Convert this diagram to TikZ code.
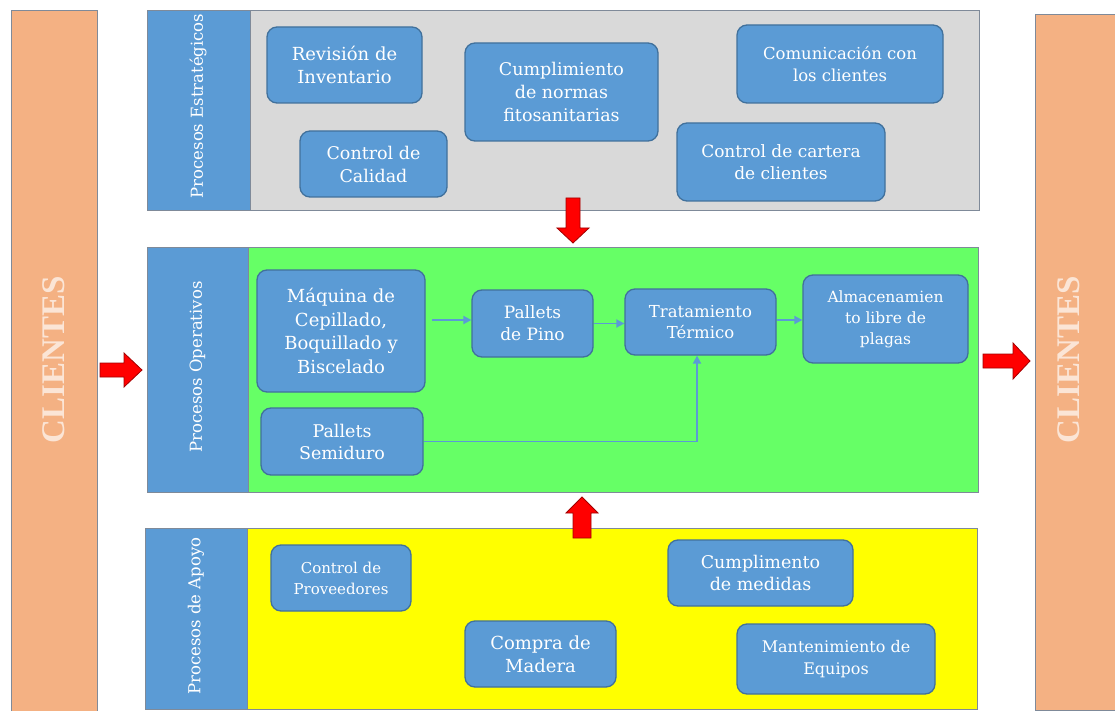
\documentclass[tikz,border=0pt]{standalone}
\usepackage{fontspec}
\setmainfont{DejaVu Serif}
\newfontfamily\clifont{Liberation Serif}
\usetikzlibrary{arrows.meta}
\definecolor{boxblue}{HTML}{5B9BD5}
\definecolor{boxedge}{HTML}{41719C}
\definecolor{panelgray}{HTML}{D9D9D9}
\definecolor{panelgreen}{HTML}{66FF66}
\definecolor{panelyellow}{HTML}{FFFF00}
\definecolor{clientorange}{HTML}{F4B183}
\definecolor{clienttext}{HTML}{FBE5D6}
\definecolor{edgegray}{HTML}{7F8A99}
\definecolor{arrowred}{HTML}{FF0000}
\definecolor{arrowedge}{HTML}{A00000}
\newcommand{\fsz}[2]{\fontsize{#1}{#2}\selectfont}
\tikzset{
  proc/.style={draw=boxedge, fill=boxblue, line width=1.3pt, rounded corners=10pt,
    text=white, align=center, inner sep=2pt},
  panel/.style={draw=edgegray, line width=1.3pt, anchor=north west, inner sep=0pt},
  strip/.style={draw=edgegray, fill=boxblue, line width=1.3pt, anchor=north west, inner sep=0pt},
  striplabel/.style={rotate=90, text=white, font=\fsz{16.5}{19}},
  clientbar/.style={draw=edgegray, fill=clientorange, line width=1.3pt, anchor=north west, inner sep=0pt},
  clientlabel/.style={rotate=90, text=clienttext, font=\clifont\bfseries\fsz{33}{36}},
  flow/.style={draw=boxblue, line width=1.8pt, -{Triangle[length=8pt,width=8pt]}},
  bigarrow/.style={fill=arrowred, draw=arrowedge, line width=0.8pt, line join=miter},
}
\begin{document}
\begin{tikzpicture}[x=1pt, y=-1pt]
\useasboundingbox (0,0) rectangle (1115,711);
\fill[white] (0,0) rectangle (1115,711);

% clients bars
\node[clientbar, minimum width=86pt, minimum height=701pt] (cl) at (11,10) {};
\node[clientlabel] (cltext) at (54,360) {CLIENTES};
\node[clientbar, minimum width=90pt, minimum height=696pt] (cr) at (1035,14) {};
\node[clientlabel] (crtext) at (1069,360) {CLIENTES};

% panels
\node[panel, fill=panelgray, minimum width=832pt, minimum height=200pt] (ptop) at (147,10) {};
\node[strip, minimum width=103pt, minimum height=200pt] (stop) at (147,10) {};
\node[striplabel] (ltop) at (198,106) {Procesos Estratégicos};

\node[panel, fill=panelgreen, minimum width=831pt, minimum height=245pt] (pmid) at (147,247) {};
\node[strip, minimum width=101pt, minimum height=245pt] (smid) at (147,247) {};
\node[striplabel] (lmid) at (197.5,367) {Procesos Operativos};

\node[panel, fill=panelyellow, minimum width=832pt, minimum height=181pt] (pbot) at (145,528) {};
\node[strip, minimum width=102pt, minimum height=181pt] (sbot) at (145,528) {};
\node[striplabel] (lbot) at (196,616) {Procesos de Apoyo};

% strategic boxes
\node[proc, minimum width=155pt, minimum height=76pt, font=\fsz{18}{23}] (rev) at (344.5,65) {Revisión de\\Inventario};
\node[proc, minimum width=147pt, minimum height=66pt, font=\fsz{17.5}{23}] (cal) at (373.5,164) {Control de\\Calidad};
\node[proc, minimum width=193pt, minimum height=98pt, font=\fsz{17.5}{23}] (cum) at (561.5,92) {Cumplimiento\\de normas\\fitosanitarias};
\node[proc, minimum width=206pt, minimum height=78pt, font=\fsz{16.5}{22}] (com) at (840,64) {Comunicación con\\los clientes};
\node[proc, minimum width=208pt, minimum height=78pt, font=\fsz{17}{22}] (car) at (781,162) {Control de cartera\\de clientes};

% operative boxes
\node[proc, minimum width=168pt, minimum height=122pt, font=\fsz{18}{23.5}] (maq) at (341,331) {Máquina de\\Cepillado,\\Boquillado y\\Biscelado};
\node[proc, minimum width=121pt, minimum height=67pt, font=\fsz{17}{22}] (pino) at (532.5,323.5) {Pallets\\de Pino};
\node[proc, minimum width=151pt, minimum height=66pt, font=\fsz{16.5}{21}] (trat) at (700.5,322) {Tratamiento\\Térmico};
\node[proc, minimum width=165pt, minimum height=88pt, font=\fsz{15.5}{21}] (alm) at (885.5,319) {Almacenamien\\to libre de\\plagas};
\node[proc, minimum width=162pt, minimum height=67pt, font=\fsz{17.5}{22}] (semi) at (342,441.5) {Pallets\\Semiduro};

% support boxes
\node[proc, minimum width=140pt, minimum height=66pt, font=\fsz{15}{21}] (prov) at (341,578) {Control de\\Proveedores};
\node[proc, minimum width=151pt, minimum height=66pt, font=\fsz{18}{23}] (mad) at (540.5,654) {Compra de\\Madera};
\node[proc, minimum width=185pt, minimum height=66pt, font=\fsz{17.5}{22}] (med) at (760.5,573) {Cumplimento\\de medidas};
\node[proc, minimum width=198pt, minimum height=70pt, font=\fsz{16}{22}] (mant) at (836,659) {Mantenimiento de\\Equipos};

% flow connectors
\coordinate (maqout) at (432,320);
\draw[flow] (maqout) -- (maqout -| pino.west);
\draw[flow] (pino.east) -- (pino.east -| trat.west);
\draw[flow] ([yshift=2pt]trat.east) -- ([yshift=2pt]trat.east -| alm.west);
\draw[flow] (semi.east) -| ([xshift=-3.5pt]trat.south);

% big red arrows
\draw[bigarrow] (100,363) -- (124,363) -- (124,353) -- (142,370) -- (124,387) -- (124,377) -- (100,377) -- cycle;
\draw[bigarrow] (983,354) -- (1013,354) -- (1013,343) -- (1030,361) -- (1013,379) -- (1013,368) -- (983,368) -- cycle;
\draw[bigarrow] (566,198) -- (580,198) -- (580,228) -- (589,228) -- (573,243) -- (557,228) -- (566,228) -- cycle;
\draw[bigarrow] (573,538) -- (591,538) -- (591,513) -- (598,513) -- (582,497) -- (566,513) -- (573,513) -- cycle;
\end{tikzpicture}
\end{document}
